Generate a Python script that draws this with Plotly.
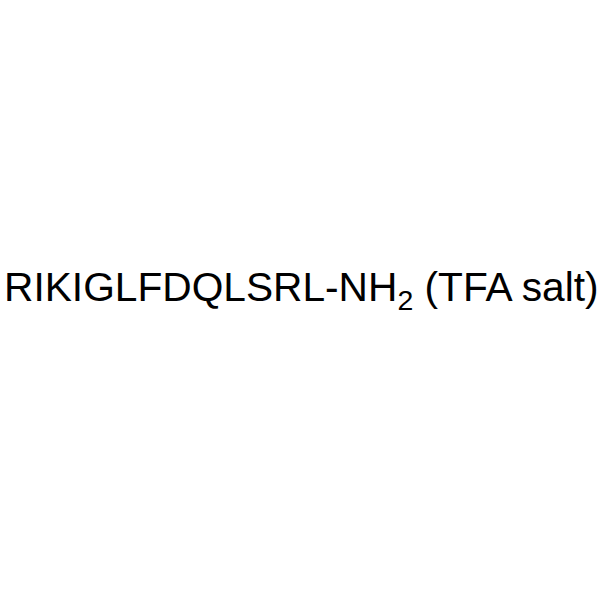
import plotly.graph_objects as go

name_main = "RIKIGLFDQLSRL-NH"
name_sub = "2"
name_tail = " (TFA salt)"

fig = go.Figure()
fig.add_annotation(
    x=0.004, y=0.516, xref="paper", yref="paper",
    text=f"{name_main}<sub>{name_sub}</sub>{name_tail}",
    showarrow=False,
    font=dict(family="Liberation Sans, Arial", size=40.7, color="black"),
    xanchor="left", yanchor="middle",
)
fig.update_xaxes(visible=False, range=[0, 1])
fig.update_yaxes(visible=False, range=[0, 1])
fig.update_layout(
    width=600, height=600,
    margin=dict(l=0, r=0, t=0, b=0),
    paper_bgcolor="white", plot_bgcolor="white",
)
fig.write_html(
    "out.html",
    config={"displayModeBar": False, "staticPlot": True},
    post_script="document.body.style.margin='0';document.body.style.overflow='hidden';",
)
